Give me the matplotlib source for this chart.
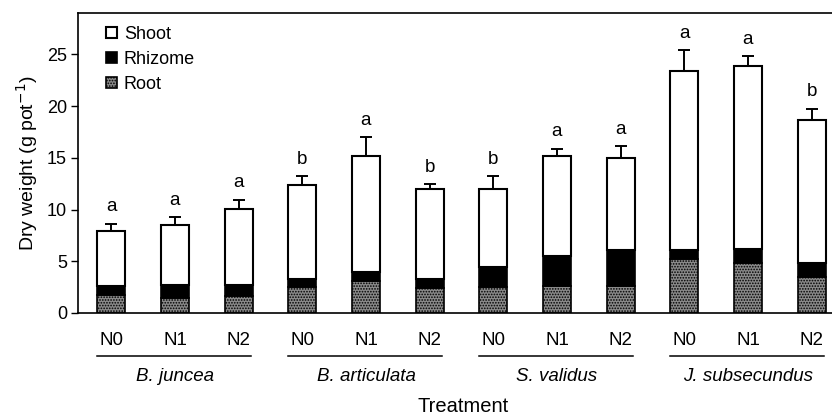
import matplotlib.pyplot as plt
import matplotlib.transforms as mtransforms
import numpy as np

plt.rcParams['font.family'] = ['Liberation Sans', 'DejaVu Sans']
plt.rcParams['hatch.linewidth'] = 0.8

species = ["B. juncea", "B. articulata", "S. validus", "J. subsecundus"]
treatments = ["N0", "N1", "N2"]

# stacked components (g pot-1)
root = [1.75, 1.45, 1.6, 2.5, 3.1, 2.4, 2.5, 2.6, 2.6, 5.25, 4.85, 3.45]
rhizome = [0.85, 1.3, 1.15, 0.8, 0.85, 0.85, 1.95, 2.9, 3.5, 0.85, 1.35, 1.35]
total = [7.9, 8.5, 10.1, 12.35, 15.2, 12.0, 12.0, 15.15, 14.95, 23.35, 23.85, 18.7]
err = [0.75, 0.8, 0.85, 0.9, 1.8, 0.45, 1.25, 0.75, 1.2, 2.05, 1.0, 1.05]
letters = ["a", "a", "a", "b", "a", "b", "b", "a", "a", "a", "a", "b"]

x = np.arange(len(total))
shoot = np.array(total) - np.array(root) - np.array(rhizome)
w = 0.44

fig = plt.figure(figsize=(8.32, 4.16), dpi=100)
ax = fig.add_axes([0.094, 0.2476, 0.906, 0.7212])

ax.bar(x, root, w, color="#8a8a8a", edgecolor="black", hatch="......", linewidth=1.2, label="Root")
ax.bar(x, rhizome, w, bottom=root, color="black", edgecolor="black", linewidth=1.2, label="Rhizome")
ax.bar(x, shoot, w, bottom=np.array(root) + np.array(rhizome), color="white",
       edgecolor="black", linewidth=1.5, label="Shoot")
ax.errorbar(x, total, yerr=[np.zeros(len(err)), err], fmt="none", ecolor="black",
            elinewidth=1.4, capsize=4.5, capthick=1.4)

for xi, t, e, l in zip(x, total, err, letters):
    ax.text(xi, t + e + 0.8, l, ha="center", va="bottom", fontsize=13.5)

ax.set_xlim(-0.52, 11.32)
ax.set_ylim(0, 29)
ax.set_yticks([0, 5, 10, 15, 20, 25])
ax.set_xticks([])
ax.tick_params(axis="y", direction="out", length=5, width=1, labelsize=13, pad=3)
ax.spines["right"].set_visible(False)
for s in ["left", "top", "bottom"]:
    ax.spines[s].set_linewidth(1.2)
ax.set_ylabel("Dry weight (g pot$^{-1}$)", fontsize=14, labelpad=5)

trans = mtransforms.blended_transform_factory(ax.transData, ax.transAxes)
for gi, sp in enumerate(species):
    for ti, tr in enumerate(treatments):
        ax.text(gi * 3 + ti, -0.093, tr, transform=trans, ha="center", va="center", fontsize=13.5)
    ax.plot([gi * 3 - 0.22, gi * 3 + 2 + 0.2], [-0.142, -0.142], transform=trans,
            color="black", lw=1.1, clip_on=False)
    ax.text(gi * 3 + 1, -0.213, sp, transform=trans, ha="center", va="center",
            fontsize=13.5, style="italic")

fig.text(463 / 832, 1 - 407 / 416, "Treatment", ha="center", va="center", fontsize=14.5)

h, lab = ax.get_legend_handles_labels()
ax.legend(h[::-1], lab[::-1], loc="upper left", frameon=False, fontsize=13,
          handlelength=0.6, handleheight=0.6, handletextpad=0.4, labelspacing=0.45,
          borderaxespad=0.3, bbox_to_anchor=(0.02, 1.0))

fig.savefig("out.png", dpi=100)
